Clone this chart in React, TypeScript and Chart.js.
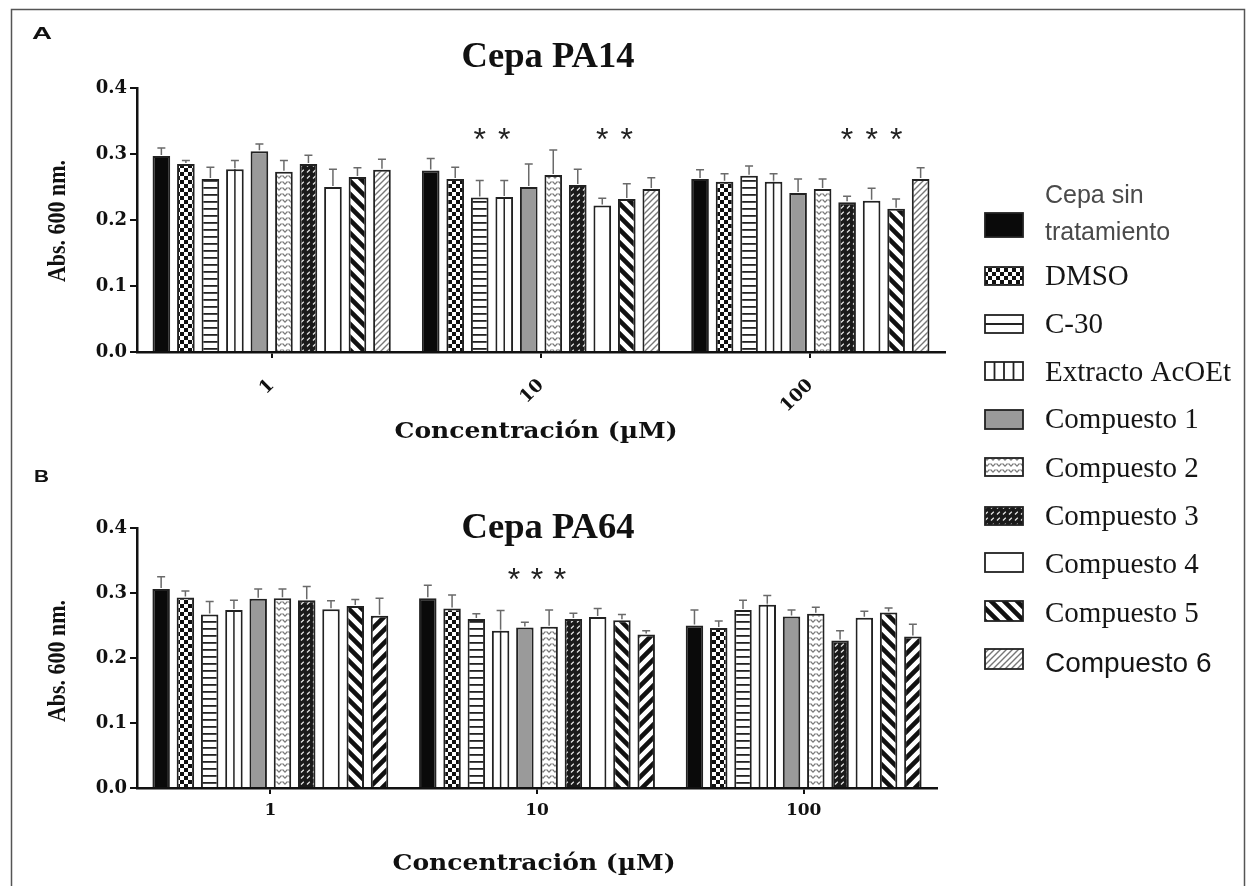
import React, { useEffect, useRef } from 'react';
import { Chart, registerables } from 'chart.js';

Chart.register(...registerables);

const W = 1248;
const H = 886;

// ---------------- data ----------------
const concentrations = ['1', '10', '100'];
const treatments = [
  'Cepa sin tratamiento',
  'DMSO',
  'C-30',
  'Extracto AcOEt',
  'Compuesto 1',
  'Compuesto 2',
  'Compuesto 3',
  'Compuesto 4',
  'Compuesto 5',
  'Compuesto 6',
];

// PA14: mean absorbance per treatment at [1, 10, 100] µM
const pa14Means = [
  [0.297, 0.275, 0.262],
  [0.285, 0.262, 0.258],
  [0.262, 0.234, 0.267],
  [0.277, 0.235, 0.258],
  [0.304, 0.25, 0.241],
  [0.273, 0.268, 0.247],
  [0.285, 0.253, 0.227],
  [0.25, 0.222, 0.229],
  [0.265, 0.232, 0.217],
  [0.276, 0.247, 0.262],
];
const pa14Errors = [
  [0.012, 0.018, 0.014],
  [0.005, 0.018, 0.012],
  [0.018, 0.026, 0.015],
  [0.013, 0.025, 0.012],
  [0.011, 0.035, 0.021],
  [0.017, 0.038, 0.015],
  [0.013, 0.024, 0.009],
  [0.027, 0.011, 0.019],
  [0.014, 0.023, 0.015],
  [0.016, 0.017, 0.017],
];

// PA64
const pa64Means = [
  [0.306, 0.292, 0.25],
  [0.293, 0.276, 0.246],
  [0.267, 0.26, 0.274],
  [0.274, 0.242, 0.282],
  [0.291, 0.247, 0.264],
  [0.292, 0.248, 0.268],
  [0.289, 0.26, 0.227],
  [0.275, 0.263, 0.262],
  [0.28, 0.258, 0.27],
  [0.265, 0.236, 0.233],
];
const pa64Errors = [
  [0.019, 0.02, 0.024],
  [0.01, 0.021, 0.011],
  [0.02, 0.008, 0.015],
  [0.015, 0.031, 0.014],
  [0.015, 0.008, 0.01],
  [0.014, 0.026, 0.01],
  [0.021, 0.009, 0.015],
  [0.013, 0.013, 0.01],
  [0.01, 0.009, 0.007],
  [0.027, 0.006, 0.019],
];

const yTicks = [0, 0.1, 0.2, 0.3, 0.4];
const starLevel = 0.33;
// significance marks: [category index, dataset index]
const pa14Stars = [
  [1, 2], [1, 3], [1, 7], [1, 8],
  [2, 6], [2, 7], [2, 8],
];
// PA64 stars: category index + pixel offsets around its centre
const pa64StarCategory = 1;
const pa64StarOffsets = [-23, 0, 23];

// ---------------- patterns ----------------
function tile(w: number, h: number, draw: (g: CanvasRenderingContext2D) => void) {
  const c = document.createElement('canvas');
  c.width = w;
  c.height = h;
  const g = c.getContext('2d')!;
  draw(g);
  return c;
}

function makeFills(ctx: CanvasRenderingContext2D) {
  const pat = (c: HTMLCanvasElement) => ctx.createPattern(c, 'repeat')!;
  const checker = pat(tile(8, 8, (g) => {
    g.fillStyle = '#fff'; g.fillRect(0, 0, 8, 8);
    g.fillStyle = '#111'; g.fillRect(0, 0, 4, 4); g.fillRect(4, 4, 4, 4);
  }));
  const hlines = pat(tile(8, 7, (g) => {
    g.fillStyle = '#fff'; g.fillRect(0, 0, 8, 7);
    g.fillStyle = '#222'; g.fillRect(0, 5, 8, 1.8);
  }));
  const comp2 = pat(tile(6, 6, (g) => {
    g.fillStyle = '#fff'; g.fillRect(0, 0, 6, 6);
    g.strokeStyle = '#7a7a7a'; g.lineWidth = 1.2;
    g.beginPath(); g.moveTo(0.5, 1.5); g.lineTo(3, 4.2); g.lineTo(5.5, 1.5); g.stroke();
  }));
  const comp3 = pat(tile(6, 6, (g) => {
    g.fillStyle = '#1a1a1a'; g.fillRect(0, 0, 6, 6);
    g.strokeStyle = '#e8e8e8'; g.lineWidth = 1.2;
    g.beginPath(); g.moveTo(1, 4.5); g.lineTo(3.8, 1.8); g.stroke();
  }));
  const comp5 = pat(tile(13, 13, (g) => {
    g.fillStyle = '#fff'; g.fillRect(0, 0, 13, 13);
    g.strokeStyle = '#111'; g.lineWidth = 4.6;
    g.beginPath();
    g.moveTo(-2, -2); g.lineTo(15, 15);
    g.moveTo(-2, 11); g.lineTo(2, 15);
    g.moveTo(11, -2); g.lineTo(15, 2);
    g.stroke();
  }));
  const comp6A = pat(tile(6, 6, (g) => {
    g.fillStyle = '#fff'; g.fillRect(0, 0, 6, 6);
    g.strokeStyle = '#777'; g.lineWidth = 1.4;
    g.beginPath();
    g.moveTo(-1, 7); g.lineTo(7, -1);
    g.moveTo(-1, 1); g.lineTo(1, -1);
    g.moveTo(5, 7); g.lineTo(7, 5);
    g.stroke();
  }));
  const comp6B = pat(tile(13, 13, (g) => {
    g.fillStyle = '#fff'; g.fillRect(0, 0, 13, 13);
    g.strokeStyle = '#111'; g.lineWidth = 4.6;
    g.beginPath();
    g.moveTo(-2, 15); g.lineTo(15, -2);
    g.moveTo(-2, 2); g.lineTo(2, -2);
    g.moveTo(11, 15); g.lineTo(15, 11);
    g.stroke();
  }));
  return {
    A: ['#0a0a0a', checker, hlines, '#ffffff', '#9a9a9a', comp2, comp3, '#ffffff', comp5, comp6A],
    B: ['#0a0a0a', checker, hlines, '#ffffff', '#9a9a9a', comp2, comp3, '#ffffff', comp5, comp6B],
  };
}

// ---------------- text helpers ----------------
function fitText(
  ctx: CanvasRenderingContext2D, text: string, x: number, y: number,
  font: string, width: number, align: CanvasTextAlign, color: string,
) {
  ctx.save();
  ctx.font = font;
  const m = ctx.measureText(text).width;
  ctx.translate(x, y);
  ctx.scale(width / m, 1);
  ctx.textAlign = align;
  ctx.textBaseline = 'alphabetic';
  ctx.fillStyle = color;
  ctx.fillText(text, 0, 0);
  ctx.restore();
}

function drawStar(ctx: CanvasRenderingContext2D, x: number, cy: number) {
  ctx.save();
  ctx.font = '32px "Liberation Sans"';
  ctx.fillStyle = '#222';
  ctx.textAlign = 'center';
  ctx.textBaseline = 'alphabetic';
  const m = ctx.measureText('*');
  const asc = m.actualBoundingBoxAscent;
  const desc = m.actualBoundingBoxDescent;
  ctx.fillText('*', x, cy + (asc - desc) / 2);
  ctx.restore();
}

function drawLegend(ctx: CanvasRenderingContext2D, fills: any[]) {
  const bx = 985;
  const bw = 38;
  const boxes = [
    [213, 24], [267, 18], [315, 18], [362, 18], [410, 19],
    [458, 18], [507, 18], [553, 19], [601, 20], [649, 20],
  ];
  ctx.save();
  boxes.forEach(([top, h], i) => {
    ctx.fillStyle = i === 2 || i === 3 ? '#fff' : fills[i];
    ctx.fillRect(bx, top, bw, h);
    ctx.strokeStyle = '#222';
    ctx.lineWidth = 1.8;
    if (i === 2) {
      ctx.beginPath(); ctx.moveTo(bx, top + h / 2); ctx.lineTo(bx + bw, top + h / 2); ctx.stroke();
    }
    if (i === 3) {
      ctx.beginPath();
      for (let k = 1; k < 4; k++) { ctx.moveTo(bx + (bw * k) / 4, top); ctx.lineTo(bx + (bw * k) / 4, top + h); }
      ctx.stroke();
    }
    ctx.strokeRect(bx, top, bw, h);
  });
  ctx.restore();

  const tx = 1045;
  ctx.save();
  ctx.textBaseline = 'alphabetic';
  ctx.font = '25px "Liberation Sans"';
  ctx.fillStyle = '#4a4a4a';
  ctx.fillText('Cepa sin', tx, 203);
  ctx.fillText('tratamiento', tx, 240);
  ctx.font = '29px "Liberation Serif"';
  ctx.fillStyle = '#161616';
  const baselines = [285, 333, 381, 428, 477, 525, 573, 622];
  for (let i = 1; i <= 8; i++) ctx.fillText(treatments[i], tx, baselines[i - 1]);
  ctx.font = '28px "Liberation Sans"';
  ctx.fillText(treatments[9], tx, 672);
  ctx.restore();
}

// ---------------- chart config ----------------
type Panel = {
  key: 'A' | 'B';
  title: string;
  means: number[][];
  errors: number[][];
  padding: { left: number; right: number; top: number; bottom: number };
  xHeight: number;
  rotation: number;
  tickPad: number;
  xFont: number;
  titleBase: number;
  xTitleBase: number;
  xTitleX: number;
  yTitleY: number;
};

function buildConfig(panel: Panel, fills: any[], allFills: any) {
  const tickFont = { family: '"DejaVu Serif"', weight: 'bold' as const, size: panel.xFont };
  const decor = {
    id: 'decor' + panel.key,
    afterDatasetsDraw(chart: any) {
      const ctx: CanvasRenderingContext2D = chart.ctx;
      const ys = chart.scales.y;
      const xs = chart.scales.x;
      ctx.save();
      // centre line in the Extracto AcOEt bars
      ctx.strokeStyle = '#222';
      ctx.lineWidth = 1.5;
      chart.getDatasetMeta(3).data.forEach((el: any) => {
        const p = el.getProps(['x', 'y', 'base'], true);
        ctx.beginPath(); ctx.moveTo(p.x, p.y); ctx.lineTo(p.x, p.base); ctx.stroke();
      });
      // error bars (upper only)
      ctx.strokeStyle = '#6a6a6a';
      ctx.lineWidth = 1.5;
      panel.errors.forEach((row, di) => {
        const meta = chart.getDatasetMeta(di);
        meta.data.forEach((el: any, i: number) => {
          const p = el.getProps(['x', 'y'], true);
          const top = ys.getPixelForValue(panel.means[di][i] + row[i]);
          ctx.beginPath();
          ctx.moveTo(p.x, p.y - 1);
          ctx.lineTo(p.x, top);
          ctx.moveTo(p.x - 4, top);
          ctx.lineTo(p.x + 4, top);
          ctx.stroke();
        });
      });
      ctx.restore();
      // significance stars
      const sy = ys.getPixelForValue(starLevel);
      if (panel.key === 'A') {
        pa14Stars.forEach(([cat, ds]) => {
          const el = chart.getDatasetMeta(ds).data[cat];
          drawStar(ctx, el.x, sy);
        });
      } else {
        const cx = xs.getPixelForValue(pa64StarCategory);
        pa64StarOffsets.forEach((o) => drawStar(ctx, cx + o, sy));
      }
    },
    afterDraw(chart: any) {
      const ctx: CanvasRenderingContext2D = chart.ctx;
      // panel title
      fitText(ctx, panel.title, 548, panel.titleBase, 'bold 35px "Liberation Serif"', 173, 'center', '#111');
      // x axis title
      fitText(ctx, 'Concentración (µM)', panel.xTitleX, panel.xTitleBase, 'bold 22px "DejaVu Serif"', 283, 'center', '#111');
      // y axis title
      ctx.save();
      ctx.translate(57, panel.yTitleY);
      ctx.rotate(-Math.PI / 2);
      fitText(ctx, 'Abs. 600 nm.', 0, 8, 'bold 25px "Liberation Serif"', 122, 'center', '#111');
      ctx.restore();
      if (panel.key === 'A') {
        // frame + panel letters + legend
        ctx.save();
        ctx.strokeStyle = '#555';
        ctx.lineWidth = 1.5;
        ctx.strokeRect(11.5, 9.5, 1233, 900);
        ctx.restore();
        fitText(ctx, 'A', 32, 39, 'bold 17px "Liberation Sans"', 20, 'left', '#111');
        fitText(ctx, 'B', 34, 482, 'bold 17px "Liberation Sans"', 15, 'left', '#111');
        drawLegend(ctx, allFills.A);
      }
    },
  };

  return {
    type: 'bar' as const,
    data: {
      labels: concentrations,
      datasets: treatments.map((t, i) => ({
        label: t,
        data: panel.means[i],
        backgroundColor: fills[i],
        borderColor: '#222',
        borderWidth: 2,
        barPercentage: 0.72,
        categoryPercentage: 0.91,
      })),
    },
    options: {
      responsive: false,
      animation: false as const,
      devicePixelRatio: 1,
      layout: { padding: panel.padding },
      plugins: {
        legend: { display: false },
        tooltip: { enabled: false },
        title: { display: false },
      },
      scales: {
        x: {
          type: 'category' as const,
          grid: {
            display: true,
            drawOnChartArea: false,
            drawTicks: true,
            tickLength: 6,
            color: '#111',
            lineWidth: 2,
            offset: false,
          },
          border: { display: true, color: '#111', width: 2.5 },
          ticks: {
            color: '#111',
            font: tickFont,
            minRotation: panel.rotation,
            maxRotation: panel.rotation,
            padding: panel.tickPad,
          },
          afterFit: (s: any) => { s.height = panel.xHeight; },
        },
        y: {
          min: 0,
          max: 0.4,
          afterBuildTicks: (s: any) => { s.ticks = yTicks.map((v) => ({ value: v })); },
          ticks: {
            color: '#111',
            font: { family: '"DejaVu Serif"', weight: 'bold' as const, size: 18 },
            padding: 3,
            callback: (v: any) => Number(v).toFixed(1),
          },
          grid: {
            display: true,
            drawOnChartArea: false,
            drawTicks: true,
            tickLength: 7,
            color: '#111',
            lineWidth: 2,
          },
          border: { display: true, color: '#111', width: 2.5 },
          afterFit: (s: any) => { s.width = 77; },
        },
      },
    },
    plugins: [decor],
  };
}

const panelA: Panel = {
  key: 'A',
  title: 'Cepa PA14',
  means: pa14Means,
  errors: pa14Errors,
  padding: { left: 60, right: W - 945, top: 88, bottom: H - 352 - 60 },
  xHeight: 60,
  rotation: 45,
  tickPad: 17,
  xFont: 18,
  titleBase: 67,
  xTitleBase: 438,
  xTitleX: 536,
  yTitleY: 221,
};

const panelB: Panel = {
  key: 'B',
  title: 'Cepa PA64',
  means: pa64Means,
  errors: pa64Errors,
  padding: { left: 60, right: W - 937, top: 528, bottom: H - 788 - 50 },
  xHeight: 50,
  rotation: 0,
  tickPad: 6,
  xFont: 17,
  titleBase: 538,
  xTitleBase: 870,
  xTitleX: 534,
  yTitleY: 661,
};

export default function App() {
  const refA = useRef<HTMLCanvasElement>(null);
  const refB = useRef<HTMLCanvasElement>(null);

  useEffect(() => {
    document.body.style.margin = '0';
    const ca = refA.current!;
    const cb = refB.current!;
    const fills = makeFills(ca.getContext('2d')!);
    const chartA = new Chart(ca, buildConfig(panelA, fills.A, fills) as any);
    const chartB = new Chart(cb, buildConfig(panelB, fills.B, fills) as any);
    return () => {
      chartA.destroy();
      chartB.destroy();
    };
  }, []);

  return (
    <div style={{ position: 'fixed', left: 0, top: 0, width: W, height: H, background: '#fff' }}>
      <canvas ref={refA} width={W} height={H} style={{ position: 'absolute', left: 0, top: 0 }} />
      <canvas ref={refB} width={W} height={H} style={{ position: 'absolute', left: 0, top: 0 }} />
    </div>
  );
}
